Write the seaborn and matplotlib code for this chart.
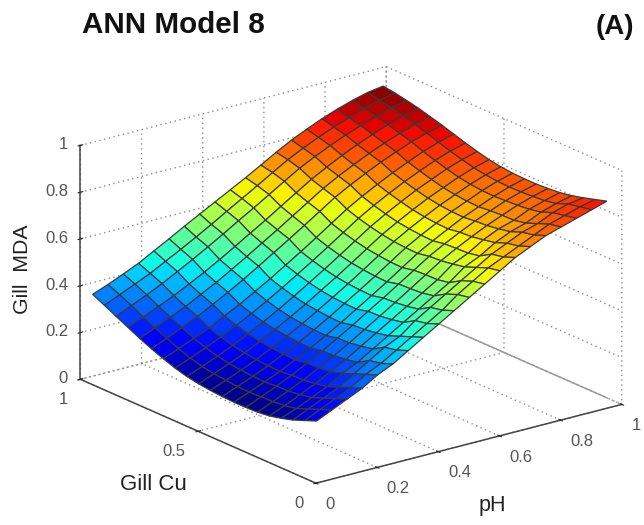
import numpy as np
import matplotlib
matplotlib.use('Agg')
import matplotlib.pyplot as plt
import seaborn as sns

ph = [0.04, 0.09, 0.14, 0.19, 0.24, 0.29, 0.34, 0.39, 0.44, 0.49, 0.54, 0.59, 0.64, 0.69, 0.74, 0.79, 0.84, 0.89, 0.94, 0.99]
gill_cu = [0.05, 0.10, 0.15, 0.20, 0.25, 0.30, 0.35, 0.40, 0.45, 0.50, 0.55, 0.60, 0.65, 0.70, 0.75, 0.80, 0.85, 0.90, 0.95, 1.00]

# one row per gill_cu value, one column per ph value
gill_mda = [
    [.23, .26, .29, .32, .36, .39, .43, .47, .51, .55, .59, .63, .67, .71, .74, .77, .79, .81, .83, .85],
    [.21, .24, .27, .30, .34, .37, .41, .45, .49, .53, .58, .62, .66, .69, .72, .75, .78, .80, .82, .835],
    [.19, .22, .25, .28, .32, .36, .40, .43, .48, .52, .56, .60, .64, .68, .71, .74, .76, .79, .81, .82],
    [.175, .20, .23, .26, .30, .33, .37, .41, .45, .49, .53, .57, .62, .65, .69, .72, .74, .77, .79, .807],
    [.163, .19, .22, .25, .285, .32, .36, .40, .44, .48, .52, .56, .61, .64, .68, .71, .73, .76, .78, .798],
    [.157, .185, .214, .244, .279, .314, .352, .392, .433, .474, .516, .559, .602, .638, .671, .702, .729, .755, .776, .793],
    [.155, .183, .212, .242, .277, .312, .35, .389, .431, .471, .514, .556, .599, .635, .668, .699, .726, .752, .773, .79],
    [.155, .181, .208, .236, .269, .302, .339, .377, .418, .459, .501, .545, .589, .626, .66, .693, .721, .749, .772, .79],
    [.157, .183, .21, .238, .271, .304, .341, .379, .42, .461, .503, .547, .591, .628, .662, .695, .723, .751, .774, .792],
    [.161, .187, .214, .242, .275, .309, .345, .384, .424, .465, .508, .552, .595, .633, .667, .70, .728, .756, .779, .797],
    [.167, .193, .22, .248, .281, .315, .352, .39, .431, .472, .515, .559, .603, .64, .675, .708, .736, .764, .787, .805],
    [.176, .202, .229, .258, .291, .325, .362, .401, .442, .483, .526, .57, .614, .652, .687, .72, .749, .777, .80, .818],
    [.19, .216, .243, .272, .305, .339, .376, .415, .456, .497, .54, .584, .628, .666, .701, .734, .763, .791, .814, .832],
    [.208, .234, .261, .289, .323, .356, .394, .432, .473, .514, .557, .601, .645, .683, .717, .75, .779, .807, .83, .848],
    [.228, .256, .285, .315, .35, .385, .423, .463, .504, .545, .587, .63, .673, .709, .742, .773, .80, .826, .847, .864],
    [.25, .278, .307, .336, .371, .405, .443, .482, .523, .563, .605, .647, .689, .725, .757, .788, .815, .84, .862, .878],
    [.275, .302, .331, .36, .393, .427, .464, .503, .543, .582, .624, .665, .706, .741, .774, .804, .83, .855, .876, .892],
    [.30, .329, .358, .389, .424, .459, .496, .534, .574, .612, .652, .692, .731, .764, .794, .822, .846, .869, .889, .903],
    [.325, .353, .382, .411, .446, .48, .516, .553, .592, .63, .668, .707, .745, .778, .807, .834, .858, .88, .899, .913],
    [.35, .375, .403, .432, .468, .503, .54, .575, .61, .645, .68, .717, .755, .79, .82, .848, .872, .893, .91, .92],
]

ph_ticks = [0, 0.2, 0.4, 0.6, 0.8, 1]
ph_labels = ['0', '0.2', '0.4', '0.6', '0.8', '1']
cu_ticks = [0, 0.5, 1]
cu_labels = ['0', '0.5', '1']
mda_ticks = [0, 0.2, 0.4, 0.6, 0.8, 1]
mda_labels = ['0', '0.2', '0.4', '0.6', '0.8', '1']

sns.set_style('white')
plt.rcParams['font.family'] = ['Liberation Sans', 'DejaVu Sans']

fig = plt.figure(figsize=(6.44, 5.25), dpi=100)
ax = fig.add_axes([22 / 644, -19.5 / 525, 1, 1], projection='3d', proj_type='ortho')
ax.patch.set_alpha(0)
ax.view_init(elev=19.7, azim=-127.4)
ax.set_box_aspect((385, 388, 248.5), zoom=1.11)

X, Y = np.meshgrid(ph, gill_cu)
Z = np.array(gill_mda)
ax.plot_surface(X, Y, Z, rstride=1, cstride=1, cmap=plt.get_cmap('jet'),
                vmin=0.16, vmax=Z.max(), edgecolor='#3a3a3a', linewidth=0.9,
                antialiased=True, shade=False)

ax.set_xlim(0, 1, view_margin=0)
ax.set_ylim(0, 1, view_margin=0)
ax.set_zlim(0, 1, view_margin=0)
ax.set_xticks(ph_ticks, ph_labels)
ax.set_yticks(cu_ticks, cu_labels)
ax.set_zticks(mda_ticks, mda_labels)

# matlab look: white walls, dotted grid
for axis in (ax.xaxis, ax.yaxis, ax.zaxis):
    axis.set_pane_color((1, 1, 1, 1))
    axis.pane.set_edgecolor('white')
    axis.line.set_color('#444444')
    axis.line.set_linewidth(1.1)
    axis._axinfo['grid'].update(color='#8c8c8c', linestyle=(0, (1, 2.5)), linewidth=1.0)
    axis._axinfo['tick'].update(inward_factor=0.1, outward_factor=0.1)
ax.tick_params(axis='both', labelsize=12, labelcolor='#555555', pad=0)
ax.tick_params(axis='z', pad=-3.5)
for lab in ax.get_xticklabels():
    lab.set_ha('left')
for lab in ax.get_yticklabels():
    lab.set_ha('right')
for lab in ax.get_zticklabels():
    lab.set_ha('right')
    lab.set_va('center')
ax.plot([1, 1], [0, 1], [0, 0], color='#999999', lw=1.0, zorder=0)

fig.text(82 / 644, 1 - 25 / 525, 'ANN Model 8', fontsize=21.3, fontweight='bold', va='center', color='#111111')
fig.text(596 / 644, 1 - 27 / 525, '(A)', fontsize=20, fontweight='bold', va='center', color='#111111')
fig.text(23 / 644, 1 - 269 / 525, 'Gill  MDA', fontsize=15.3, rotation=90, ha='center', va='center', color='#222222')
fig.text(153 / 644, 1 - 484 / 525, 'Gill Cu', fontsize=16, ha='center', va='center', color='#222222')
fig.text(492 / 644, 1 - 505 / 525, 'pH', fontsize=15.5, ha='center', va='center', color='#222222')

fig.savefig('out.png', dpi=100)
